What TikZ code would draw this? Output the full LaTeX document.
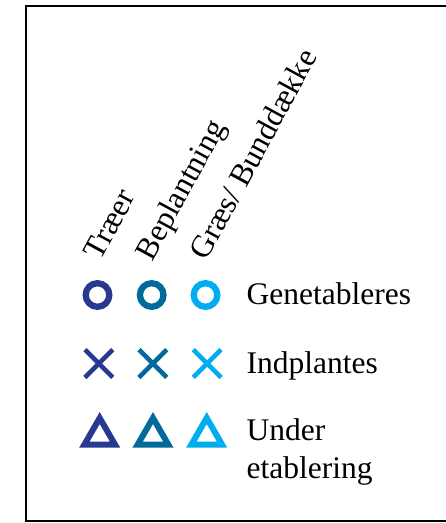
\documentclass[tikz,border=0pt]{standalone}
\usepackage{fontspec}
\setmainfont{Liberation Serif}
\definecolor{cnavy}{RGB}{40,58,143}
\definecolor{cteal}{RGB}{0,106,154}
\definecolor{ccyan}{RGB}{0,174,239}
\begin{document}
\begin{tikzpicture}[x=1pt,y=-1pt,
  lbl/.style={inner sep=0pt, anchor=base west, font=\fontsize{31.5}{38}\selectfont},
  collbl/.style={lbl, rotate=61.5},
  ring/.style={line width=6.3pt},
  crossmark/.style={line width=4.6pt},
  tri/.style={line width=6pt, line join=miter}]
\useasboundingbox (0,0) rectangle (446,523);
\draw[line width=2.5pt] (450,6) -- (26,6) -- (26,521) -- (450,521);

% column labels
\node[collbl] (ctraeer) at (100.5,262) {Træer};
\node[collbl] (cbepl) at (152.5,262.5) {Beplantning};
\node[collbl] (cgraes) at (206.5,262) {Græs/ Bunddække};

% row labels
\node[lbl] (rgen) at (246.5,304) {Genetableres};
\node[lbl] (rind) at (246.5,373.3) {Indplantes};
\node[lbl] (rund) at (246.5,440) {Under};
\node[lbl] (reta) at (246.5,478.3) {etablering};

% circles
\foreach \x/\c in {97.5/cnavy,151.7/cteal,205.5/ccyan}
  \draw[ring,\c] (\x,295) circle[radius=11.8];
% crosses
\foreach \x/\c in {98.8/cnavy,152.8/cteal,207.2/ccyan}
  \draw[crossmark,\c] (\x-13.9,363.5-13.9) -- (\x+13.9,363.5+13.9)
                      (\x-13.9,363.5+13.9) -- (\x+13.9,363.5-13.9);
% triangles
\foreach \x/\c in {99.7/cnavy,153/cteal,206.7/ccyan}
  \draw[tri,\c] (\x-15.4,444.7) -- (\x+15.4,444.7) -- (\x,418) -- cycle;
\end{tikzpicture}
\end{document}
